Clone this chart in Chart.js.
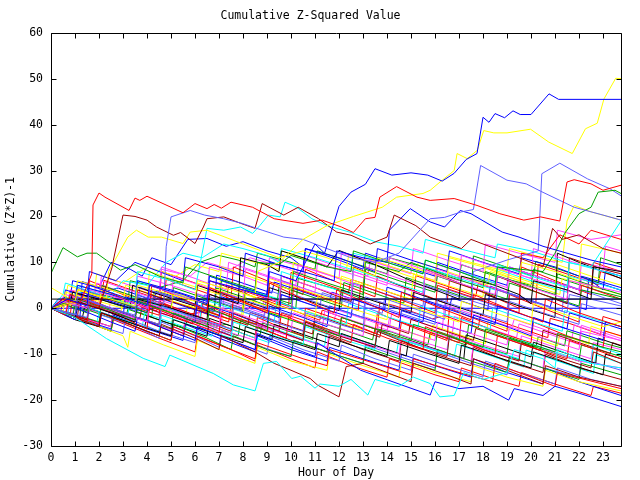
<!DOCTYPE html>
<html>
<head>
<meta charset="utf-8">
<script src="https://cdn.jsdelivr.net/npm/chart.js@4/dist/chart.umd.min.js"></script>
<style>
  body { margin: 0; background: #fff; }
  #box { width: 640px; height: 480px; }
</style>
</head>
<body>
<div id="box"><canvas id="grafico" width="640" height="480"></canvas></div>
<script>
// ticks
const hourTicks = [0,1,2,3,4,5,6,7,8,9,10,11,12,13,14,15,16,17,18,19,20,21,22,23];
const valueTicks = [-30,-20,-10,0,10,20,30,40,50,60];

// cada serie: pares [hora, valor acumulado]
const redWalks = [
  [[0,0],[0.5,2],[1.2,1],[1.7,7.5],[1.75,22.5],[2,25.1],[2.25,24.2],[3.25,21.3],[3.5,24],[3.7,23.5],[4,24.4],[5.5,20.8],[6,22.8],[6.5,21.7],[6.8,22.6],[7.1,21.8],[7.5,23.1],[8.4,22],[9.3,19.5],[10.5,18.5],[11.3,19.2],[12.1,17.7],[12.6,16.5],[13.1,19.5],[13.5,19.8],[13.7,24.2],[14.4,26.5],[15.25,24.2],[15.8,23.5],[16.8,23.9],[17.75,22.4],[18.7,20.6],[19.7,19.2],[20.4,19.9],[21.2,19],[21.5,27.5],[21.8,28],[22.5,27.1],[23,25.7],[23.75,26.8]],
  [[0,0],[0.6,-1.5],[0.8,3],[2,0.5],[2.2,4],[3.5,1],[4.1,-0.5],[4.2,5],[5.5,2],[6.5,-0.5],[6.6,4.5],[8,1.5],[9,-1],[9.1,5.5],[10.5,2],[11.8,-1],[11.9,4],[13,1.5],[14.5,-2],[14.6,3.5],[16,0.5],[17.5,-2.5],[17.6,3],[19,0],[20.5,-3],[20.6,2],[22,-1],[23.75,-4]],
  [[0,0],[1.5,-3],[1.6,1],[3,-2],[4,-4.5],[4.1,0.5],[5.5,-2.5],[7,-5.5],[7.1,-1],[8.5,-4],[9.8,-6.5],[9.9,-2],[11,-4.5],[12.5,-7.5],[12.6,-3.5],[14,-6.5],[15.5,-9],[15.6,-4],[17,-7],[18.5,-10],[18.6,-6],[20,-8.5],[21.5,-11],[21.6,-7],[23.75,-11]],
  [[0,0],[2,-3.5],[2.1,-1],[4,-5],[5,-7],[5.1,-4],[7,-8],[8.5,-11],[8.6,-7.5],[10.5,-11],[11.5,-12.5],[11.6,-9],[13.5,-12],[15,-14.5],[15.1,-11],[17,-14],[18.4,-16],[18.5,-12],[20,-15],[21,-17],[21.1,-14],[23.75,-17.5]],
  [[0,0],[1,1],[1.1,4],[3,1],[4.5,-1.5],[4.6,3],[6,0.5],[7.5,-2.5],[7.6,2],[9,-0.5],[10,-2],[10.1,4.5],[11.5,2],[12.8,-0.5],[12.9,5],[14.5,2],[16,-1],[16.1,5],[17.5,2.5],[19.5,-1],[19.6,12],[20.5,11],[21.2,16],[22,14],[22.5,17],[23.75,15]],
  [[0,0],[0.8,-1.5],[0.9,2.5],[2.5,-0.5],[3.5,-2.5],[3.6,2],[5,-1],[6.2,-3.5],[6.3,1],[8,-2.5],[9.5,-5],[9.6,-1],[11,-3.5],[12,-5.5],[12.1,-2],[13.5,-4.5],[14.5,-6.5],[14.6,-3],[16.2,-6],[17,-7.5],[17.1,-2],[18.5,-5],[20,-7.5],[20.1,-3],[21.5,-6],[23,-8.5],[23.1,-5],[23.75,-6]],
  [[0,0],[1,-2],[1.1,3],[2.5,0],[4,-3],[4.1,2],[5.5,-0.5],[7.5,-4.5],[8.5,-6.5],[8.6,-2],[9.5,-4],[10.5,-6],[10.6,0],[12,-2.5],[13.5,-5.5],[13.6,-1],[15,-4],[16.5,-7],[16.6,0],[18,-3],[19,-5],[19.1,3],[20.5,0],[22,-3],[22.1,5],[23.75,2]],
  [[0,0],[1.5,-3],[2.5,-5],[2.6,-2.5],[4.5,-6.5],[6,-9.5],[6.1,-6],[7.5,-9],[8.5,-11.5],[8.6,-8],[10,-11],[11,-13],[11.1,-9.5],[12.5,-12.5],[14,-15],[14.1,-11],[16,-14.5],[17,-16],[17.1,-13],[18.5,-15.5],[19.5,-17],[19.6,-14],[21,-16.5],[22.5,-19],[22.6,-17],[23.75,-18.5]],
  [[0,0],[0.5,1.5],[1.5,-0.5],[1.6,6],[3,3],[4.5,0],[4.6,8],[6,5.5],[7.5,2],[7.6,9],[9,6],[10.5,3],[10.6,8.5],[12,5.5],[13.5,2.5],[13.6,7],[15,4],[16.5,1],[16.6,6],[18,3.5],[19.5,0],[19.6,9],[21,6],[22.5,3],[22.6,10],[23.75,8]],
  [[0,0],[0.4,-0.8],[0.5,1.8],[1.3,0.4],[1.7,-0.5],[1.8,3.2],[2.9,1.2],[3.3,1.6],[4.4,-0.6],[4.5,1.5],[5.8,-1.2],[6.3,-0.9],[7.4,-3],[7.5,0.8],[8.2,-0.3],[8.6,2.4],[9.9,-0.1],[11.2,-2.6],[11.3,-0.4],[12.7,-3],[13.6,-4.7],[13.7,1.2],[14.3,0.6],[15.9,-2.3],[16.4,-1.6],[17.8,-4.2],[17.9,-1.4],[19.4,-4.1],[20.7,-6.4],[20.8,-2.2],[21.6,-3.3],[22.9,-5.7],[23,-1.8],[23.75,-3]],
  [[0,0],[0.7,0.8],[0.8,3.9],[2.1,1.6],[2.2,6.1],[3.4,3.9],[4.7,1.6],[4.8,6.3],[6.1,4],[7.3,1.8],[7.4,4.9],[8.7,2.6],[9.9,0.4],[10,7.8],[11.3,5.5],[12.4,3.5],[12.5,6.3],[13.8,4],[15.1,1.7],[15.2,7.1],[16.5,4.8],[17.7,2.6],[17.8,5.4],[19.1,3.1],[20.2,1.1],[20.3,9.6],[21.6,7.3],[22.8,5.1],[22.9,8],[23.75,6.5]]
];

const darkRedWalks = [
  [[0,0],[1,1.5],[2,0],[2.55,9],[2.6,10.5],[3,20.3],[3.5,20],[4,19.2],[4.4,17.7],[5.1,15.9],[5.4,16.5],[6,14.1],[6.35,17.7],[6.5,19.5],[7.2,19.9],[7.9,18.5],[8.5,17.4],[8.8,22.8],[9.7,20.3],[10.3,22],[11.15,19.5],[11.9,16.6],[12.5,15.9],[13.3,14],[14,15.5],[14.3,20.3],[15.2,18],[15.8,15.5],[17.1,13],[17.5,15],[18.5,13],[19.5,11],[20.5,9],[20.9,17.4],[21.3,15],[22,16],[23,13],[23.75,12]],
  [[0,0],[1,-2],[2,-4],[2.1,-1],[3.5,-4],[4.5,-6],[4.6,-3.5],[6,-6.5],[7,-9],[7.1,-6],[8.5,-9.5],[9.3,-12],[10,-13.5],[10.8,-15.3],[11.1,-16.7],[12,-19.3],[12.3,-12.7],[13,-12],[14,-14],[15,-16],[15.1,-12],[16.5,-14.5],[17.5,-16.5],[17.6,-11],[19,-13.5],[20.5,-16.5],[20.6,-12.5],[22,-15],[23.75,-17]],
  [[0,0],[1.5,-2.5],[1.6,1.5],[3,-1],[4.5,-3.5],[4.6,1],[6,-2],[7.5,-5],[7.6,-1],[9,-4],[10.5,-7],[10.6,-3],[12,-6],[13.5,-8.5],[13.6,-5],[15,-8],[16.5,-10.5],[16.6,-6],[18,-9],[19.5,-11.5],[19.6,-7.5],[21,-10.5],[22.5,-13],[22.6,-9.5],[23.75,-12]],
  [[0,0],[0.7,2],[2,0],[3.5,-2.5],[3.6,4],[5,1.5],[6.5,-1],[6.6,6],[8,3.5],[9.5,0],[9.6,7],[11,4.5],[12.5,1.5],[12.6,9],[14,6],[15.5,3],[15.6,8.5],[17,5.5],[18.5,2.5],[18.6,7],[20,4],[21.5,1],[21.6,11],[23,8.5],[23.75,7.5]],
  [[0,0],[1,-1.5],[2.5,-4],[2.6,0],[4,-3],[5.5,-6],[5.6,-2],[7,-5],[8.5,-8],[8.6,-4],[10,-7],[11.5,-9.5],[11.6,-6],[13,-9],[14.5,-11.5],[14.6,-7],[16,-10],[17.5,-12.5],[17.6,-8.5],[19,-11.5],[20.5,-14],[20.6,-10],[22,-13],[23.75,-15.5]],
  [[0,0],[1.1,-2],[1.2,2.3],[2.2,0.5],[3.7,-2.2],[3.8,0.4],[5.3,-2.3],[5.9,-3.4],[6,0.2],[7.4,-2.3],[8.2,-3.7],[8.3,-0.9],[9.8,-3.6],[10.9,-5.6],[11,-1.4],[12.2,-3.6],[13.7,-6.3],[13.8,-3.5],[14.9,-5.5],[15,-2.4],[16.3,-4.7],[17.6,-7],[17.7,-4.4],[19.1,-6.9],[20.4,-9.2],[20.5,-4.8],[21.9,-7.3],[23.3,-9.8],[23.4,-7.5],[23.75,-8.1]]
];

const greenWalks = [
  [[0,7.6],[0.5,13.2],[1.1,11.2],[1.5,12],[1.9,12],[2.3,10.5],[2.9,8.3],[3.5,9.5],[4.5,7],[5.5,5.5],[5.6,9],[7,6.5],[8.5,4],[8.6,10],[9.5,9.5],[10,11.5],[11.5,9],[12.5,8],[12.6,12.5],[14,10],[15.5,7.5],[15.6,10.5],[17,8],[18.5,5],[18.6,9],[20.5,8],[21,12],[21.4,16.3],[22,20.6],[22.5,22],[22.8,25.3],[23.5,25.7],[23.75,25]],
  [[0,0],[1,-1.5],[1.1,2],[2.5,-0.5],[3.5,-2.5],[3.6,1.5],[5,-1],[6.5,-4],[6.6,0],[8,-3],[9,-5],[9.1,-1],[10.5,-3.5],[12,-6],[12.1,-2],[13.5,-4.5],[15,-7],[15.1,-3.5],[16.5,-6],[18,-8.5],[18.1,-4.5],[19.5,-7],[21,-9.5],[21.1,-5.5],[23,-8.5],[23.75,-9.5]],
  [[0,0],[0.5,1],[1.5,-1],[1.6,3.5],[3,1],[4,-1],[4.1,5],[5.5,2.5],[7,0],[7.1,6],[8.5,3.5],[10,1],[10.1,8],[11.5,5.5],[13,3],[13.1,10],[14.5,8],[15,10],[16.5,7],[18,4.5],[18.1,8],[19.5,5.5],[21,3],[21.1,7.5],[22.5,5],[23.75,3]],
  [[0,0],[1.5,-3],[2.5,-5],[2.6,-2],[4,-5],[5,-7],[5.1,-3.5],[6.5,-6.5],[7.5,-9],[7.6,-6],[9,-9],[10,-10.5],[10.1,-7],[11.5,-9.5],[13,-12],[13.1,-8.5],[14.5,-11],[16,-13.5],[16.1,-9],[17.5,-11.5],[19,-14],[19.1,-10.5],[20.5,-13],[22,-15.5],[22.1,-12],[23.75,-14.5]],
  [[0,0],[1,2],[2,0.5],[2.1,5],[3.5,2.5],[5,0],[5.1,4.5],[6.5,2],[8,-0.5],[8.1,4],[9.5,1.5],[10.2,0],[10.3,6.5],[12,4],[13,2],[13.1,8.5],[14.5,6],[16,3.5],[16.1,7],[17.5,4.5],[19,2],[19.1,5.5],[20.5,3],[22,0.5],[22.1,4],[23.75,2]],
  [[0,0],[0.8,-1],[2,-3],[2.1,0.5],[3.5,-2],[5,-4.5],[5.1,-1],[6.5,-3.5],[7.8,-6],[7.9,-2.5],[9.5,-5],[10.5,-7],[10.6,-3],[12,-5.5],[13.5,-8],[13.6,-5],[15,-7.5],[16,-9],[16.1,-5],[17.5,-7.5],[19,-10],[19.1,-6.5],[20.5,-9],[22,-11.5],[22.1,-8],[23.75,-10.5]],
  [[0,0],[0.9,-1.7],[1,0.6],[2.6,-2.3],[3.1,-2.6],[3.2,-0.2],[4.8,-3.1],[5.6,-4.3],[5.7,-1.8],[6.9,-3.9],[7.3,-3.5],[8.7,-6.1],[8.8,-3.2],[9.4,-4.1],[10.9,-6.8],[11,-2.7],[12.3,-4.9],[13.4,-6.9],[13.5,-4.4],[14.2,-5.2],[15.7,-8],[15.8,-5.3],[17.3,-8],[17.4,-3.6],[18.9,-6.3],[20.2,-8.5],[20.3,-6.2],[21.4,-8.2],[21.5,-4.9],[23.1,-7.7],[23.75,-8.6]],
  [[0,0],[0.5,1.3],[1.6,-0.7],[1.7,2.6],[3,0.3],[4.2,-1.9],[4.3,3.7],[5.6,1.4],[6.8,-0.8],[6.9,4.4],[8.2,2.1],[9.4,-0.1],[9.5,4.9],[10.8,2.6],[12.1,0.3],[12.2,5.6],[13.4,3.4],[14.7,1.1],[14.8,6.7],[16.1,4.4],[17.5,1.9],[17.6,11.4],[18.9,9.1],[20.1,6.9],[20.2,10.2],[21.5,7.9],[22.8,5.6],[22.9,11],[23.75,9.5]],
  [[0,0],[1,1.5],[1.1,4],[2.5,2.5],[3.2,1],[3.3,6],[4.5,4.5],[5.5,6],[6.2,10],[7,11.5],[7.8,10.5],[8.5,9],[8.6,12],[10,10],[11,8.5],[11.1,12.5],[12.5,10],[14,7.5],[14.1,11],[15.5,9],[17,6.5],[17.1,9.5],[18.5,7],[20,5],[20.1,8.5],[21.5,6],[23,3.5],[23.75,2.5]]
];

const blueWalks = [
  [[0,0],[0.7,2],[1.5,0.5],[1.6,5],[3,2.5],[4,0.5],[4.1,5],[5.5,3],[6.5,1],[6.6,6],[8,4],[9,2.5],[9.1,8],[10.2,6],[11,14],[11.4,12],[12,22.2],[12.5,25.3],[13.1,27],[13.5,30.4],[14.2,29],[15,29.5],[15.7,29],[16.3,27.7],[16.8,29.4],[17.3,32.4],[17.75,33.7],[18,41.6],[18.25,40.5],[18.5,42.4],[18.9,41.5],[19.25,43],[19.55,42.2],[20,42.2],[20.75,46.7],[21.15,45.5],[23.75,45.5]],
  [[0,0],[1,1.5],[1.1,5],[2.5,3],[3.5,1],[3.6,6],[5,4],[6.5,1.5],[6.6,7],[8,4.5],[9,3],[9.1,10],[10.5,8],[11.8,6],[11.9,12.5],[13,11],[14,10],[14.1,17],[14.97,21.7],[15.8,18.8],[16.4,17.7],[17.05,21.3],[17.5,20.6],[18.8,16.6],[19.5,15.5],[20.5,13.5],[21.5,12],[22.5,10.5],[23.75,9]],
  [[0,0],[1,-2.5],[1.1,0],[2.5,-3],[3.5,-5],[3.6,-2],[5,-5],[6,-7],[6.1,-4],[7.5,-7],[8.5,-9],[8.6,-5.5],[10,-8.5],[11,-10.5],[11.1,-7.5],[12.9,-13.5],[14.5,-16.5],[15.8,-18.9],[16,-16],[17,-17.5],[18,-17],[19.07,-20],[19.3,-17.5],[20.5,-19],[21,-17],[22,-18.5],[23.75,-21.4]],
  [[0,0],[0.6,2.5],[2,0],[3,-2],[3.1,2.5],[4.5,0],[6,-3],[6.1,1.5],[7.5,-1],[9,-4],[9.1,0.5],[10.5,-2],[11.5,-4],[11.6,0.5],[13,-2],[14.5,-4.5],[14.6,-0.5],[16,-3],[17.5,-5.5],[17.6,-1.5],[19,-4],[20,-6],[20.1,-2],[21.5,-4.5],[23,-7],[23.1,-3],[23.75,-4]],
  [[0,0],[1.2,-2],[1.3,3.5],[2.5,1.5],[4,-1],[4.1,3],[5.5,0.5],[7,-2],[7.1,2.5],[8.5,0],[9.5,-2],[9.6,3],[11,0.5],[12.5,-2],[12.6,2],[14,-0.5],[15.5,-3],[15.6,1.5],[17,-1],[18.5,-3.5],[18.6,0.5],[20,-2],[21.5,-4.5],[21.6,-1],[23.75,-4.5]],
  [[0,0],[0.5,1],[0.6,4],[1.5,2.5],[1.6,8],[2.7,6],[3.5,10],[4.5,8],[5.5,6],[5.6,11],[7,9],[8,7],[8.1,12],[9.5,9.5],[10.5,8],[10.6,13],[12,11],[13.5,8],[13.6,13],[15,10.5],[16.5,8],[16.6,12.5],[18,10],[19.5,7.5],[19.6,11],[21,9],[22.5,6],[23,4],[23.1,8],[23.75,7]],
  [[0,0],[1,-2],[2.5,-4.5],[2.6,-1.5],[4,-4.5],[5.5,-7],[5.6,-3.5],[7,-6.5],[8.5,-9.5],[8.6,-6],[10,-9],[11.5,-11.5],[11.6,-8.5],[13,-11],[14.5,-13.5],[14.6,-10],[16,-12.5],[17.5,-15],[17.6,-11],[19,-14],[20.5,-16.5],[20.6,-13],[22,-16],[23.75,-19]],
  [[0,0],[0.3,2],[23.75,2]],
  [[0,0],[23.75,0]],
  [[0,0],[0.3,1.2],[1.2,-0.4],[1.3,5.8],[2.4,3.9],[2.8,4.4],[4.3,1.6],[4.4,3.8],[5.9,1.1],[6.8,-0.5],[6.9,7.2],[7.7,6],[9.2,3.3],[9.3,5.7],[10.1,4.3],[11.6,1.6],[11.7,3.5],[12.9,1.4],[13.9,-0.4],[14,4.6],[15.3,2.3],[16.6,0],[16.7,2.3],[18.2,-0.4],[18.3,4.8],[19.2,3.1],[20.8,0.3],[20.9,2.2],[22.3,-0.3],[22.4,6.3],[23.75,3.9]],
  [[0,0],[0.8,2],[0.9,6],[2,4.5],[2.5,10],[3.3,8.5],[3.8,7],[4.2,11],[5,9.5],[5.7,15],[6.5,15.2],[7.3,13.5],[8,14.5],[9,12.5],[10,11],[10.5,9],[10.6,13],[12,10.5],[13,8.5],[13.1,12],[14.5,9.5],[16,7],[16.1,10],[17.5,7.5],[19,5],[19.1,9],[20.5,6.5],[22,4],[22.1,7],[23.75,4.5]]
];

const lightBlueWalks = [
  [[0,0],[1,-1.5],[1.1,2.5],[2.5,0],[3.5,-1.5],[3.6,3],[4.7,1],[4.8,13.4],[5,19.9],[5.8,21.3],[6.4,20.3],[7.2,19.5],[7.95,18.5],[8.8,17],[9.7,15.5],[10.5,15],[11.5,13],[12.5,11],[13.5,10],[14.5,12],[15.8,19.5],[16.4,19.8],[17.1,21],[17.6,21.5],[17.9,31.1],[19,27.9],[19.8,27.1],[20.4,25.5],[21,24],[21.8,22],[23,20.3],[23.75,19.2]],
  [[0,0],[1.5,-2],[1.6,1.5],[3,-1],[4.5,-3.5],[4.6,0.5],[6,-2],[7.5,-4.5],[7.6,0],[9,-2.5],[10.5,-5],[10.6,-1],[12,-3.5],[13,-5],[13.1,1.5],[14.5,-1],[16,-3.5],[16.1,1],[17.5,-1.5],[17.6,8],[19,10.5],[20.3,12.5],[20.45,29.3],[21.2,31.6],[22.35,28.2],[23.3,26],[23.75,24.5]],
  [[0,0],[1,1],[1.1,4.5],[2.5,2],[4,-0.5],[4.1,4],[5.5,1.5],[7,-1],[7.1,3.5],[8.5,1],[10,-1.5],[10.1,3],[11.5,0.5],[13,-2],[13.1,2.5],[14.5,0],[16,-2.5],[16.1,2],[17.5,-0.5],[19,-3],[19.1,1.5],[20.5,-1],[22,-3.5],[22.1,1],[23.75,-1.5]],
  [[0,0],[1.5,-3],[3,-5.5],[3.1,-2],[4.5,-5],[6,-7.5],[6.1,-4],[7.5,-7],[9,-10],[9.1,-6],[10.5,-9],[12,-11.5],[12.1,-8],[13.5,-11],[15,-13.5],[15.1,-10],[16.5,-12.5],[18,-15],[18.1,-11.5],[19.5,-14],[21,-16.5],[21.1,-13],[22.5,-15.5],[23.75,-17]],
  [[0,0],[0.7,-1],[0.8,3],[2,1],[3.5,-2],[3.6,2.5],[5,0],[6,-2],[6.1,3],[7.5,0.5],[9,-2],[9.5,-3],[9.6,6],[11,3.5],[12.5,1],[12.6,5.5],[14,3],[15.5,0.5],[15.6,5],[17,2.5],[18.5,0],[18.6,4],[20,1.5],[21.5,-1],[21.6,3],[23.75,0.5]],
  [[0,0],[1,-2],[2,-4],[2.1,-1.5],[3.5,-4],[4.5,-6.5],[4.6,-3],[6,-6],[7,-8.5],[7.1,-5],[8.5,-8],[10,-10.5],[10.1,-7],[11.5,-9.5],[13,-12],[13.1,-8],[14.5,-10.5],[16,-13],[16.1,-9.5],[17.5,-12],[19,-14.5],[19.1,-10.5],[20.5,-13],[22,-15],[22.1,-11],[23.75,-13.5]],
  [[0,0],[0.4,1.6],[1.4,-0.2],[1.5,3],[2.8,0.7],[3.6,-0.7],[3.7,4.6],[5,2.3],[6.3,0],[6.4,2.9],[7.6,0.7],[8.9,-1.6],[9,4],[10.3,1.7],[11.2,0.1],[11.3,3.4],[12.6,1.1],[13.8,-1.1],[13.9,2.1],[15.2,-0.2],[16.4,-2.4],[16.5,4.1],[17.8,1.8],[19,-0.4],[19.1,3.3],[20.4,1],[21.3,-0.6],[21.4,5.2],[22.7,2.9],[23.75,1]]
];

const magentaWalks = [
  [[0,0],[0.5,1.5],[1.5,0],[1.6,4],[3,2],[4,0],[4.1,5],[5.5,2.5],[6.5,1],[6.6,6],[8,4],[9.5,1.5],[9.6,7],[11,4.5],[12.5,2],[12.6,8],[14,5.5],[15.5,3],[15.6,8],[17,5.5],[18.5,3],[18.6,7],[20,4.5],[21.5,2],[21.6,6],[23.75,3.5]],
  [[0,0],[1,-1.5],[1.1,2],[2.5,-0.5],[4,-3],[4.1,1],[5.5,-1.5],[7,-4],[7.1,0],[8.5,-2.5],[10,-5],[10.1,-1],[11.5,-3.5],[13,-6],[13.1,-2],[14.5,-4.5],[16,-7],[16.1,-3],[17.5,-5.5],[19,-8],[19.1,-4],[20.5,-6.5],[22,-9],[22.1,-5],[23.75,-7]],
  [[0,0],[0.8,2],[2,0.5],[2.1,6],[3.5,3.5],[5,1],[5.1,7],[6.5,4.5],[8,2],[8.1,8.5],[9.5,6],[11,3.5],[11.1,10],[12.5,7.5],[14,5],[14.1,11],[15.5,8.5],[17,6],[17.1,11.5],[18.5,9],[20,6.5],[20.1,13],[21.5,10.5],[23,8],[23.1,13.5],[23.75,12.5]],
  [[0,0],[1.5,-2.5],[2.5,-4],[2.6,-0.5],[4,-3],[5.5,-5.5],[5.6,-2],[7,-4.5],[8.5,-7],[8.6,-3.5],[10,-6],[11.5,-8.5],[11.6,-5],[13,-7.5],[14.5,-10],[14.6,-6.5],[16,-9],[17.5,-11.5],[17.6,-8],[19,-10.5],[20.5,-13],[20.6,-9],[22,-11.5],[23.75,-13]],
  [[0,0],[0.6,3],[1.8,1],[1.9,5.5],[3.2,3],[4.5,1],[4.6,9],[6,6.5],[7.3,4],[7.4,10],[8.8,7.5],[10.2,5],[10.3,9.5],[11.7,7],[13,4.5],[13.1,9],[14.5,6.5],[16,4],[16.1,8.5],[17.5,6],[19,3.5],[19.1,9],[20.5,6.5],[22,4],[22.1,10],[23.75,8]],
  [[0,0],[1,-2],[1.5,-3.5],[1.6,0],[3,-2.5],[4.5,-5],[4.6,-1],[6,-3.5],[7.5,-6],[7.6,-2],[9,-4.5],[10.5,-7],[10.6,-3.5],[12,-6],[13.5,-8.5],[13.6,-4],[15,-6.5],[16.5,-9],[16.6,-5.5],[18,-8],[19.5,-10.5],[19.6,-6],[21,-8.5],[22.5,-11],[22.6,-7.5],[23.75,-9]],
  [[0,0],[1,1],[1.1,5],[2.5,3],[3.5,1.5],[3.6,7],[5,5],[6.5,2.5],[6.6,9],[8,7],[9,5],[9.1,11],[10.5,9],[12,6.5],[12.1,12],[13.5,10],[15,7.5],[15.1,13],[16.5,10.5],[18,8],[18.1,14],[19.5,12],[21,10],[21.1,17],[22.5,15],[23.75,16]],
  [[0,0],[0.6,-1.1],[0.7,1.4],[1.9,-0.8],[2.4,-1.6],[2.5,2.7],[3.6,0.7],[4.8,-1.5],[4.9,0.4],[6.2,-1.9],[7.1,-3.6],[7.2,1.9],[8.4,-0.3],[8.8,-1],[8.9,2.4],[10.3,-0.1],[11.8,-2.8],[11.9,-0.3],[12.8,-1.9],[14.1,-4.2],[14.2,-1],[15.6,-3.5],[16.3,-4.8],[16.4,0.8],[17.7,-1.5],[19.2,-4.2],[19.3,-2.4],[20.1,-3.8],[21.7,-6.7],[21.8,-3.6],[23.75,-7.1]],
  [[0,0],[0.9,-1.6],[1,1.9],[2.3,-0.4],[3.5,-2.6],[3.6,1.2],[4.9,-1.1],[6.1,-3.3],[6.2,0.5],[7.5,-1.8],[8.8,-4.1],[8.9,-0.3],[10.2,-2.6],[11.3,-4.6],[11.4,-0.6],[12.7,-2.9],[14,-5.2],[14.1,-2.1],[15.4,-4.4],[16.7,-6.7],[16.8,-1.8],[18.1,-4.1],[19.4,-6.4],[19.5,-3.4],[20.8,-5.7],[22,-7.9],[22.1,-3.7],[23.75,-6.6]],
  [[0,0],[0.7,1.5],[0.8,4],[2,2.5],[2.1,7],[3.3,5],[4.5,3],[4.6,8.5],[5.8,7],[6.5,10],[7.5,8.5],[8.3,11],[9.3,9.5],[10.5,7.5],[10.6,11.5],[12,9],[13.2,7],[13.3,10.5],[14.8,8],[16,6],[16.1,9.5],[17.6,7],[19,4.5],[19.1,8],[20.6,5.5],[22,3],[22.1,6.5],[23.75,4]]
];

const cyanWalks = [
  [[0,0],[1,-2],[2.31,-6.6],[3.84,-10.9],[4.75,-12.7],[4.95,-10.2],[6.76,-14.2],[7.6,-16.7],[8.5,-18],[8.85,-12],[9.4,-11.6],[10.03,-15.3],[10.4,-14.8],[11,-17.4],[11.2,-16.5],[12,-17],[12.5,-15.5],[13.2,-18.9],[13.5,-15.5],[14.5,-17],[15.1,-15],[15.8,-16.4],[16.2,-19.3],[16.8,-19],[17.2,-14],[18,-15.5],[19,-14],[19.3,-9],[20.5,-11],[21,-13],[21.1,-9],[22.5,-12],[23.75,-13]],
  [[0,0],[1,1.5],[1.1,5],[2.5,3],[3.5,1.5],[3.6,8],[5,6],[6,4],[6.5,17.4],[7.2,17],[7.9,17.7],[8.4,16.3],[8.7,18],[9.06,20.3],[9.55,19.9],[9.75,23.1],[10.24,22],[10.87,19.5],[11.5,18],[12.5,16.5],[13.5,14.5],[14.5,13.5],[15.5,12],[15.6,15],[17,13],[18.5,11],[18.6,14],[20,12.5],[21.5,10],[22.5,9],[23,13],[23.75,19]],
  [[0,0],[0.5,3],[0.6,5.5],[2,3],[3.5,0.5],[3.6,6],[5,3.5],[6.5,1],[6.6,7],[8,4.5],[9.5,2],[9.6,8],[11,5.5],[12.5,3],[12.6,8.5],[14,6],[15.5,3.5],[15.6,9],[17,6.5],[18.5,4],[18.6,9.5],[20,7],[21.5,4.5],[21.6,10],[23.75,7]],
  [[0,0],[1.5,-3],[1.6,0],[3,-2.5],[4.5,-5],[4.6,-1.5],[6,-4],[7.5,-6.5],[7.6,-3],[9,-5.5],[10.5,-8],[10.6,-4],[12,-6.5],[13.5,-9],[13.6,-5],[15,-7.5],[16.5,-10],[16.6,-6],[18,-8.5],[19.5,-11],[19.6,-7],[21,-9.5],[22.5,-12],[22.6,-8],[23.75,-10]],
  [[0,0],[0.7,-1],[0.8,2],[2,0],[3.2,-2],[3.3,2.5],[4.8,0],[6.2,-2.5],[6.3,2],[7.8,-0.5],[9.3,-3],[9.4,1.5],[10.8,-1],[12.3,-3.5],[12.4,1],[13.8,-1.5],[15.3,-4],[15.4,0.5],[16.8,-2],[18.3,-4.5],[18.4,0],[19.8,-2.5],[21.3,-5],[21.4,-0.5],[23.75,-4]],
  [[0,0],[0.8,-1.4],[1.9,-3.4],[2,-0.8],[3.4,-3.3],[3.8,-4],[3.9,-1.1],[5.2,-3.4],[6.7,-6.1],[6.8,-3.3],[7.6,-4.8],[9.1,-7.5],[9.2,-4.3],[10.7,-7],[11.4,-8.2],[11.5,-4.5],[12.9,-7],[14.4,-9.7],[14.5,-6.6],[15.3,-8],[16.8,-10.7],[16.9,-7.8],[18.4,-10.5],[19.7,-12.8],[19.8,-9.1],[21,-11.3],[22.6,-14.2],[22.7,-10.1],[23.75,-12]],
  [[0,0],[0.5,2],[1.5,4],[2.5,3],[3,6],[4,5],[4.8,10],[5.5,12],[6.3,11],[7.2,14],[8,13],[9,11.5],[9.5,10],[9.6,13],[11,11],[12.5,8.5],[12.6,12],[14,10],[15.5,7.5],[15.6,10.5],[17,8],[18.5,5.5],[18.6,8.5],[20,6],[21.5,3.5],[21.6,7],[23.75,4]]
];

const yellowWalks = [
  [[0,0],[1,1.5],[1.1,4],[2.5,2],[3.5,0.5],[3.6,5],[5,3],[6,1.5],[6.1,6],[7.5,4],[8.5,2.5],[8.6,8],[9.5,10],[10.5,15],[11.5,18],[12.6,20],[13.8,22],[14.4,24.2],[15.5,25],[15.8,25.7],[16.3,27.9],[16.8,30],[16.92,33.7],[17.34,32.6],[17.76,34.4],[18.03,38.7],[18.45,38.2],[19,38.2],[19.98,39],[20.74,36.2],[21.72,33.7],[22.27,39.1],[22.76,40.3],[23.04,45.6],[23.53,50.1],[23.75,50]],
  [[0,0],[1,1],[1.1,4],[2.3,2],[2.4,8],[3.2,15.5],[3.56,17],[4.05,15.5],[4.6,15.5],[5.5,14.1],[5.8,16.6],[6.5,17],[7.5,15],[8.5,13],[9.5,11],[10.5,12.5],[11.5,11],[12.5,9],[13.5,7],[13.6,11],[15,9],[16.5,6.5],[16.6,11],[18,9],[19.5,6],[19.6,10],[21,8],[22,6],[22.1,14],[23.75,12]],
  [[0,4.5],[0.8,2],[2,0],[2.1,4],[3.5,1.5],[5,-1],[5.1,3.5],[6.5,1],[8,-1.5],[8.1,3],[9.5,0.5],[11,-2],[11.1,2.5],[12.5,0],[14,-2.5],[14.1,2],[15.5,-0.5],[17,-3],[17.1,1.5],[18.5,-1],[20,-3.5],[20.1,1],[21.5,-1.5],[23,-4],[23.75,-3]],
  [[0,0],[1.5,-3],[3,-6],[3.2,-8.5],[3.3,-5],[4.7,-8],[6,-10.5],[6.1,-7],[7.5,-10],[8.5,-12],[8.6,-8.5],[10,-11.5],[11.5,-13.5],[11.6,-10],[13,-12.5],[14.5,-15],[14.6,-11.5],[16,-14],[17.5,-16],[17.6,-12.5],[19,-15],[20.5,-17],[20.6,-13.5],[22,-16],[23.75,-18]],
  [[0,0],[0.5,1],[0.6,3.5],[2,1.5],[3,0],[3.1,5],[4.5,2.5],[6,0],[6.1,5.5],[7.5,3],[9,0.5],[9.1,6.5],[10.5,4],[12,1.5],[12.1,7],[13.5,4.5],[15,2],[15.1,7.5],[16.5,5],[18,2.5],[18.1,9],[19.5,6.5],[21,4],[21.1,9.5],[22.5,7],[23.75,5]],
  [[0,0],[1,2],[1.1,6],[2.5,4],[4,1.5],[4.1,8],[5.5,5.5],[7,3],[7.1,9],[8.5,6.5],[10,4],[10.1,10],[11.5,7.5],[13,5],[13.1,11],[14.5,8.5],[16,6],[16.1,12],[17.5,10],[19,8],[19.1,13],[20.5,11],[21.3,10],[21.5,19],[21.8,22.4],[22.5,21],[23.75,19.2]],
  [[0,0],[0.5,-0.9],[0.6,2.5],[1.7,0.5],[2.9,-1.7],[3,2.8],[4.2,0.6],[5.6,-1.9],[5.7,0.7],[6.4,-0.6],[7.9,-3.3],[8,1.1],[9.3,-1.2],[10.6,-3.5],[10.7,-0.7],[11.5,-2.1],[13,-4.8],[13.1,-1.9],[14.6,-4.6],[15.8,-6.8],[15.9,-3.7],[16.6,-5],[18.1,-7.7],[18.2,-3],[19.6,-5.5],[21.1,-8.2],[21.2,-5.6],[22.4,-7.8],[22.5,-3.9],[23.75,-6.1]],
  [[0,0],[0.6,2],[0.7,5],[1.8,3],[1.9,7.5],[3,5.5],[4,9],[5.2,7],[6,9.5],[7,8],[7.1,12],[8.5,10],[9.5,8.5],[9.6,12.5],[11,10],[12.3,8],[12.4,11.5],[13.8,9],[15.2,6.5],[15.3,10],[16.8,7.5],[18.2,5],[18.3,8],[19.8,5.5],[21.2,3],[21.3,6.5],[23.75,3]]
];

const blackWalks = [
  [[0,2],[23.75,2]],
  [[0,0],[1,-2],[1.1,1.5],[2.5,-1],[3.5,-3],[3.6,2],[5,0],[6.5,-2.5],[6.6,3],[7.8,1],[7.9,11],[9,9.5],[9.5,8],[9.6,12.5],[10.5,11],[11.5,9],[12,12.6],[13.5,9.5],[15.25,5.4],[16,4],[17,2],[17.1,7],[18.5,5],[19.5,3],[20,1],[20.1,6],[21.5,4],[22.5,2],[22.6,9],[23.75,8]],
  [[0,0],[1,-2.5],[2,-4],[2.1,-1],[3.5,-3.5],[5,-6],[5.1,-2.5],[6.5,-5],[8,-7.5],[8.1,-4],[9.5,-6.5],[11,-9],[11.1,-5.5],[12.5,-8],[14,-10.5],[14.1,-7],[15.5,-9.5],[17,-12],[17.1,-8],[18.5,-10.5],[20,-13],[20.1,-9.5],[21.5,-12],[23,-14.5],[23.1,-10],[23.75,-11]],
  [[0,0],[0.8,1],[0.9,3.5],[2,2],[3.3,0],[3.4,5],[4.8,2.5],[6,0.5],[6.1,5],[7.5,2.5],[9,0],[9.1,4.5],[10.5,2],[12,-0.5],[12.1,4],[13.5,1.5],[15,-1],[15.1,3.5],[16.5,1],[18,-1.5],[18.1,3],[19.5,0.5],[21,-2],[21.1,12],[22,10],[23,8],[23.75,6.5]],
  [[0,0],[1.3,-2.3],[1.4,0.3],[2.7,-2],[3.9,-4.2],[4,-1.6],[5.1,-3.6],[6.5,-6.1],[6.6,-2.2],[7.8,-4.4],[9.2,-6.9],[9.3,-3.5],[10.5,-5.7],[12,-8.4],[12.1,-5.5],[13.3,-7.7],[14.8,-10.4],[14.9,-6.9],[16.2,-9.2],[17.2,-11],[17.3,-5.8],[18.6,-8.1],[20,-10.6],[20.1,-7.4],[21.4,-9.7],[22.7,-12],[22.8,-6.5],[23.75,-8.2]]
];

const grupos = [
  [blueWalks, '#0000ff'],
  [redWalks, '#ff0000'],
  [yellowWalks, '#ffff00'],
  [lightBlueWalks, '#6060ff'],
  [darkRedWalks, '#a00000'],
  [cyanWalks, '#00ffff'],
  [greenWalks, '#00a000'],
  [magentaWalks, '#ff40ff'],
  [blackWalks, '#000000']
];

// mezclar colores para que se superpongan como en el original
const datasets = [];
for (let i = 0; i < 12; i++) {
  grupos.forEach(([walks, color]) => {
    if (walks[i]) {
      datasets.push({
        data: walks[i],
        borderColor: color,
        borderWidth: 1,
        pointRadius: 0,
        fill: false,
        tension: 0
      });
    }
  });
}

const fuente = { family: 'DejaVu Sans Mono', size: 11.5, weight: 'normal' };

// marco y ticks hacia adentro (estilo gnuplot)
const marco = {
  id: 'marco',
  afterDraw(chart) {
    const ctx = chart.ctx;
    const a = chart.chartArea;
    const sx = chart.scales.x, sy = chart.scales.y;
    const L = Math.round(a.left) + 0.5, R = Math.round(a.right) + 0.5;
    const T = Math.round(a.top) + 0.5, B = Math.round(a.bottom) + 0.5;
    ctx.save();
    ctx.strokeStyle = '#000';
    ctx.lineWidth = 1;
    ctx.beginPath();
    ctx.rect(L, T, R - L, B - T);
    hourTicks.forEach(h => {
      const px = Math.round(sx.getPixelForValue(h)) + 0.5;
      ctx.moveTo(px, B); ctx.lineTo(px, B - 5);
      ctx.moveTo(px, T); ctx.lineTo(px, T + 5);
    });
    valueTicks.forEach(v => {
      const py = Math.round(sy.getPixelForValue(v)) + 0.5;
      ctx.moveTo(L, py); ctx.lineTo(L + 5, py);
      ctx.moveTo(R, py); ctx.lineTo(R - 5, py);
    });
    ctx.stroke();
    ctx.restore();
  }
};

new Chart(document.getElementById('grafico'), {
  type: 'line',
  data: { datasets: datasets },
  options: {
    responsive: false,
    animation: false,
    events: [],
    layout: { padding: { left: 0, right: 19, top: 0, bottom: 0 } },
    plugins: {
      legend: { display: false },
      tooltip: { enabled: false },
      title: {
        display: true,
        text: 'Cumulative Z-Squared Value',
        color: '#000',
        font: fuente,
        padding: { top: 9, bottom: 10 }
      }
    },
    scales: {
      x: {
        type: 'linear',
        min: 0,
        max: 23.75,
        afterBuildTicks: s => { s.ticks = hourTicks.map(v => ({ value: v })); },
        afterFit: s => { s.height = 34; },
        ticks: { color: '#000', font: fuente, padding: 5, maxRotation: 0, autoSkip: false },
        grid: { display: false, drawTicks: false },
        border: { display: false },
        title: { display: true, text: 'Hour of Day', color: '#000', font: fuente, padding: { top: 0, bottom: 0 } }
      },
      y: {
        type: 'linear',
        min: -30,
        max: 60,
        afterBuildTicks: s => { s.ticks = valueTicks.map(v => ({ value: v })); },
        afterFit: s => { s.width = 51; },
        ticks: { color: '#000', font: fuente, padding: 8 },
        grid: { display: false, drawTicks: false },
        border: { display: false },
        title: { display: true, text: 'Cumulative (Z*Z)-1', color: '#000', font: fuente, padding: { top: 4, bottom: 0 } }
      }
    }
  },
  plugins: [marco]
});
</script>
</body>
</html>
